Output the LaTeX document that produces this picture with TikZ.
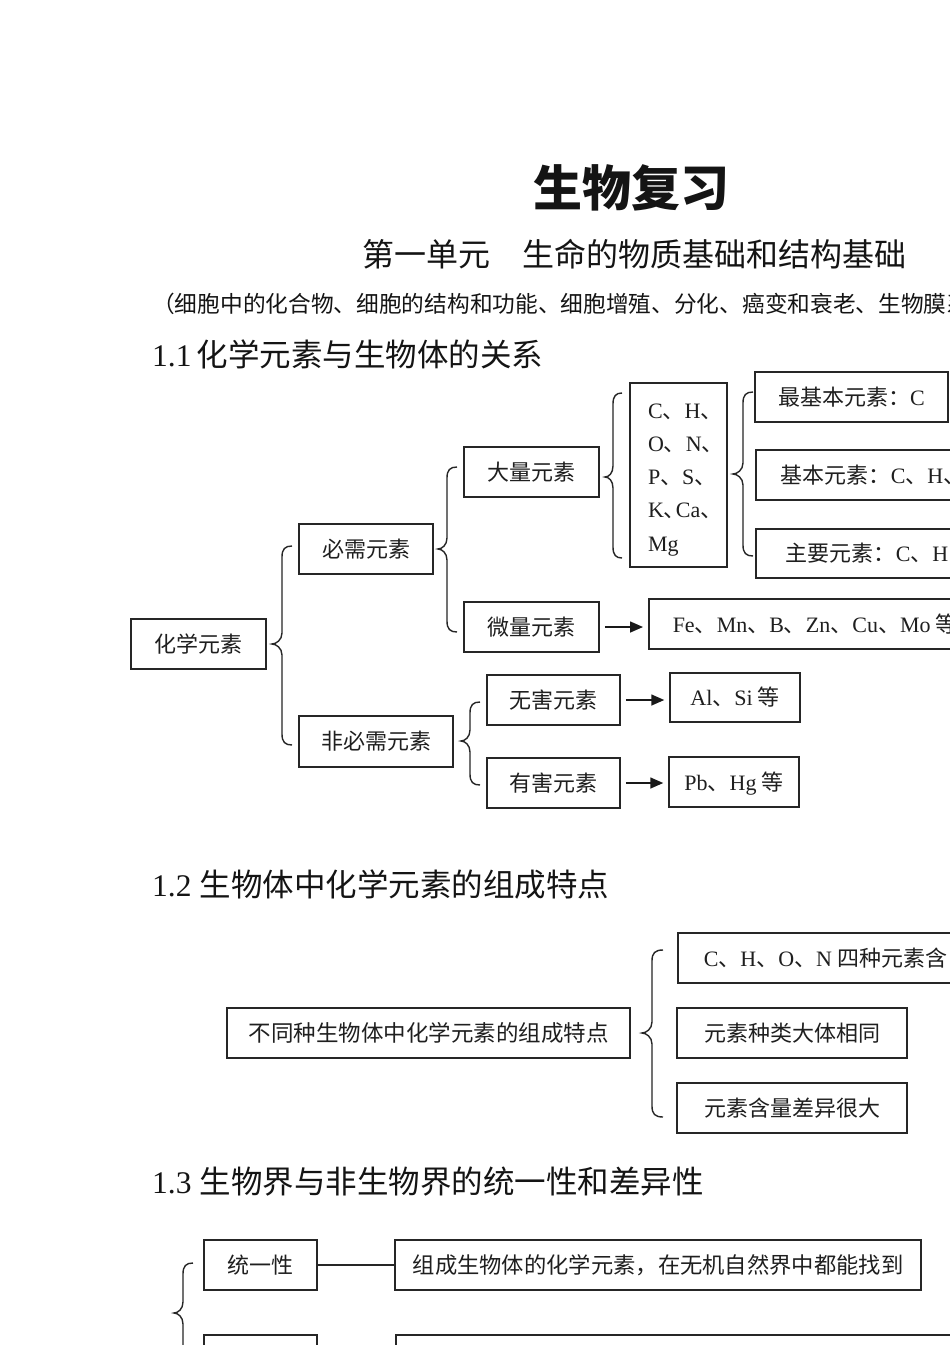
\documentclass[tikz,border=0pt]{standalone}
\usepackage{fontspec}
\setmainfont{Noto Sans CJK SC}
\newfontfamily\tms{Liberation Serif}
\usetikzlibrary{arrows.meta}
\newcommand\fsz[1]{\fontsize{#1}{#1}\selectfont}
\newcommand\lat[1]{{\tms #1}}
% tip x, line x, end x, top y, mid y, bottom y
\newcommand\brc[6]{%
  \draw[brcl] (#3,#4) .. controls (#2+3,#4) and (#2,#4+3) .. (#2,#4+11)
    -- (#2,#5-11) .. controls (#2,#5-4) and (#1+4,#5) .. (#1,#5)
    .. controls (#1+4,#5) and (#2,#5+4) .. (#2,#5+11)
    -- (#2,#6-11) .. controls (#2,#6-3) and (#2+3,#6) .. (#3,#6);}
\begin{document}
\begin{tikzpicture}[x=1pt,y=-1pt,
  boxbase/.style={draw=black!85, line width=1.5pt, inner sep=0pt, text=black!88},
  bx/.style={boxbase, font=\fsz{22}, text height=18pt, text depth=1.2pt},
  hd/.style={anchor=west, inner sep=0pt, text=black!92},
  brcl/.style={draw=black!85, line width=1.4pt},
  arr/.style={draw=black!90, line width=1.6pt, -{Triangle[length=13pt,width=11pt]}, shorten <=5pt, shorten >=5pt},
  ln/.style={draw=black!85, line width=1.4pt}]
\useasboundingbox (0,0) rectangle (950,1345);
\clip (0,0) rectangle (950,1345);
\fill[white] (0,0) rectangle (950,1345);

% titles
\node[font=\fsz{49}\bfseries, inner sep=0pt, text=black!92] (title) at (631,188) {生物复习};
\node[hd, font=\fsz{32}] (sub) at (362,254) {第一单元　生命的物质基础和结构基础};
\node[hd, font=\fsz{22.7}] (par) at (152,304) {（细胞中的化合物、细胞的结构和功能、细胞增殖、分化、癌变和衰老、生物膜系};
\node[hd, font=\fsz{31.5}] (h11) at (152,354) {\lat{1.1}\hspace{5pt}化学元素与生物体的关系};

% 1.1 diagram
\node[bx, minimum width=135pt, minimum height=50pt] (hx) at (198.5,644) {化学元素};
\node[bx, minimum width=134pt, minimum height=50pt] (bx1) at (366,549) {必需元素};
\node[bx, minimum width=154pt, minimum height=51pt] (fbx) at (376,741.5) {非必需元素};
\node[bx, minimum width=135pt, minimum height=50pt] (dl) at (531.5,472) {大量元素};
\node[bx, minimum width=135pt, minimum height=50pt] (wl) at (531.5,627) {微量元素};
\node[boxbase, font=\fontsize{22}{33.3}\selectfont, align=left, text width=61pt,
      minimum width=97pt, minimum height=184pt] (lst) at (678.5,475)
  {\rule{0pt}{24pt}\lat{C}、\lat{H}、\\\lat{O}、\lat{N}、\\\lat{P}、\lat{S}、\\\lat{K}、\kern-10pt\lat{Ca}、\\\lat{Mg}};
\node[bx, minimum width=193pt, minimum height=50pt] (zjb) at (851.5,397) {最基本元素：\lat{C}};
\node[bx, anchor=west, inner xsep=25pt, minimum height=50pt] (jb) at (755,475)
  {\makebox[230pt][l]{基本元素：\lat{C}、\lat{H}、}};
\node[bx, anchor=west, inner xsep=30pt, minimum height=49pt] (zy) at (755,553.5)
  {\makebox[230pt][l]{主要元素：\lat{C}、\lat{H}}};
\node[bx, anchor=west, inner xsep=24pt, minimum height=50pt] (fe) at (648,624)
  {\makebox[300pt][l]{\lat{Fe}、\lat{Mn}、\lat{B}、\lat{Zn}、\lat{Cu}、\lat{Mo} 等}};
\node[bx, minimum width=133pt, minimum height=50pt] (wh) at (553.5,700) {无害元素};
\node[bx, minimum width=133pt, minimum height=50pt] (yh) at (553.5,783) {有害元素};
\node[bx, minimum width=130pt, minimum height=49pt] (al) at (735,697.5) {\lat{Al}、\lat{Si} 等};
\node[bx, minimum width=130pt, minimum height=50pt] (pb) at (734,782) {\lat{Pb}、\lat{Hg} 等};

\draw[arr] (wl.east) -- (wl.east -| fe.west);
\draw[arr] (wh.east) -- (wh.east -| al.west);
\draw[arr] (yh.east) -- (yh.east -| pb.west);

\brc{272}{282}{292}{546}{644}{745}
\brc{438}{447}{457}{467}{549}{632}
\brc{605}{613}{622}{393}{477}{558}
\brc{733}{743}{753}{392}{474}{556}
\brc{461}{470}{480}{702}{741}{785}

% 1.2
\node[hd, font=\fsz{31.5}] (h12) at (152,884) {\lat{1.2}\hspace{8pt}生物体中化学元素的组成特点};
\node[bx, font=\fsz{22.5}, minimum width=403pt, minimum height=50pt] (m12) at (428.5,1033) {不同种生物体中化学元素的组成特点};
\node[bx, anchor=west, inner xsep=26pt, minimum height=50pt] (c1) at (677,958)
  {\makebox[300pt][l]{\lat{C}、\lat{H}、\lat{O}、\lat{N} 四种元素含}};
\node[bx, minimum width=230pt, minimum height=50pt] (c2) at (792,1033) {元素种类大体相同};
\node[bx, minimum width=230pt, minimum height=50pt] (c3) at (792,1108) {元素含量差异很大};
\brc{642}{652}{663}{950}{1033}{1117}

% 1.3
\node[hd, font=\fsz{31.5}] (h13) at (152,1182) {\lat{1.3}\hspace{8pt}生物界与非生物界的统一性和差异性};
\node[bx, minimum width=113pt, minimum height=50pt] (ty) at (260.5,1265) {统一性};
\node[bx, font=\fsz{22.3}, minimum width=526pt, minimum height=50pt] (desc) at (658,1265) {组成生物体的化学元素，在无机自然界中都能找到};
\draw[ln] (ty) -- (desc);
\node[bx, minimum width=113pt, minimum height=50pt] (cy) at (260.5,1360) {};
\node[bx, anchor=west, minimum width=600pt, minimum height=50pt] (cd) at (395,1360) {};
\brc{174}{183}{193}{1263}{1313}{1363}
\end{tikzpicture}
\end{document}
